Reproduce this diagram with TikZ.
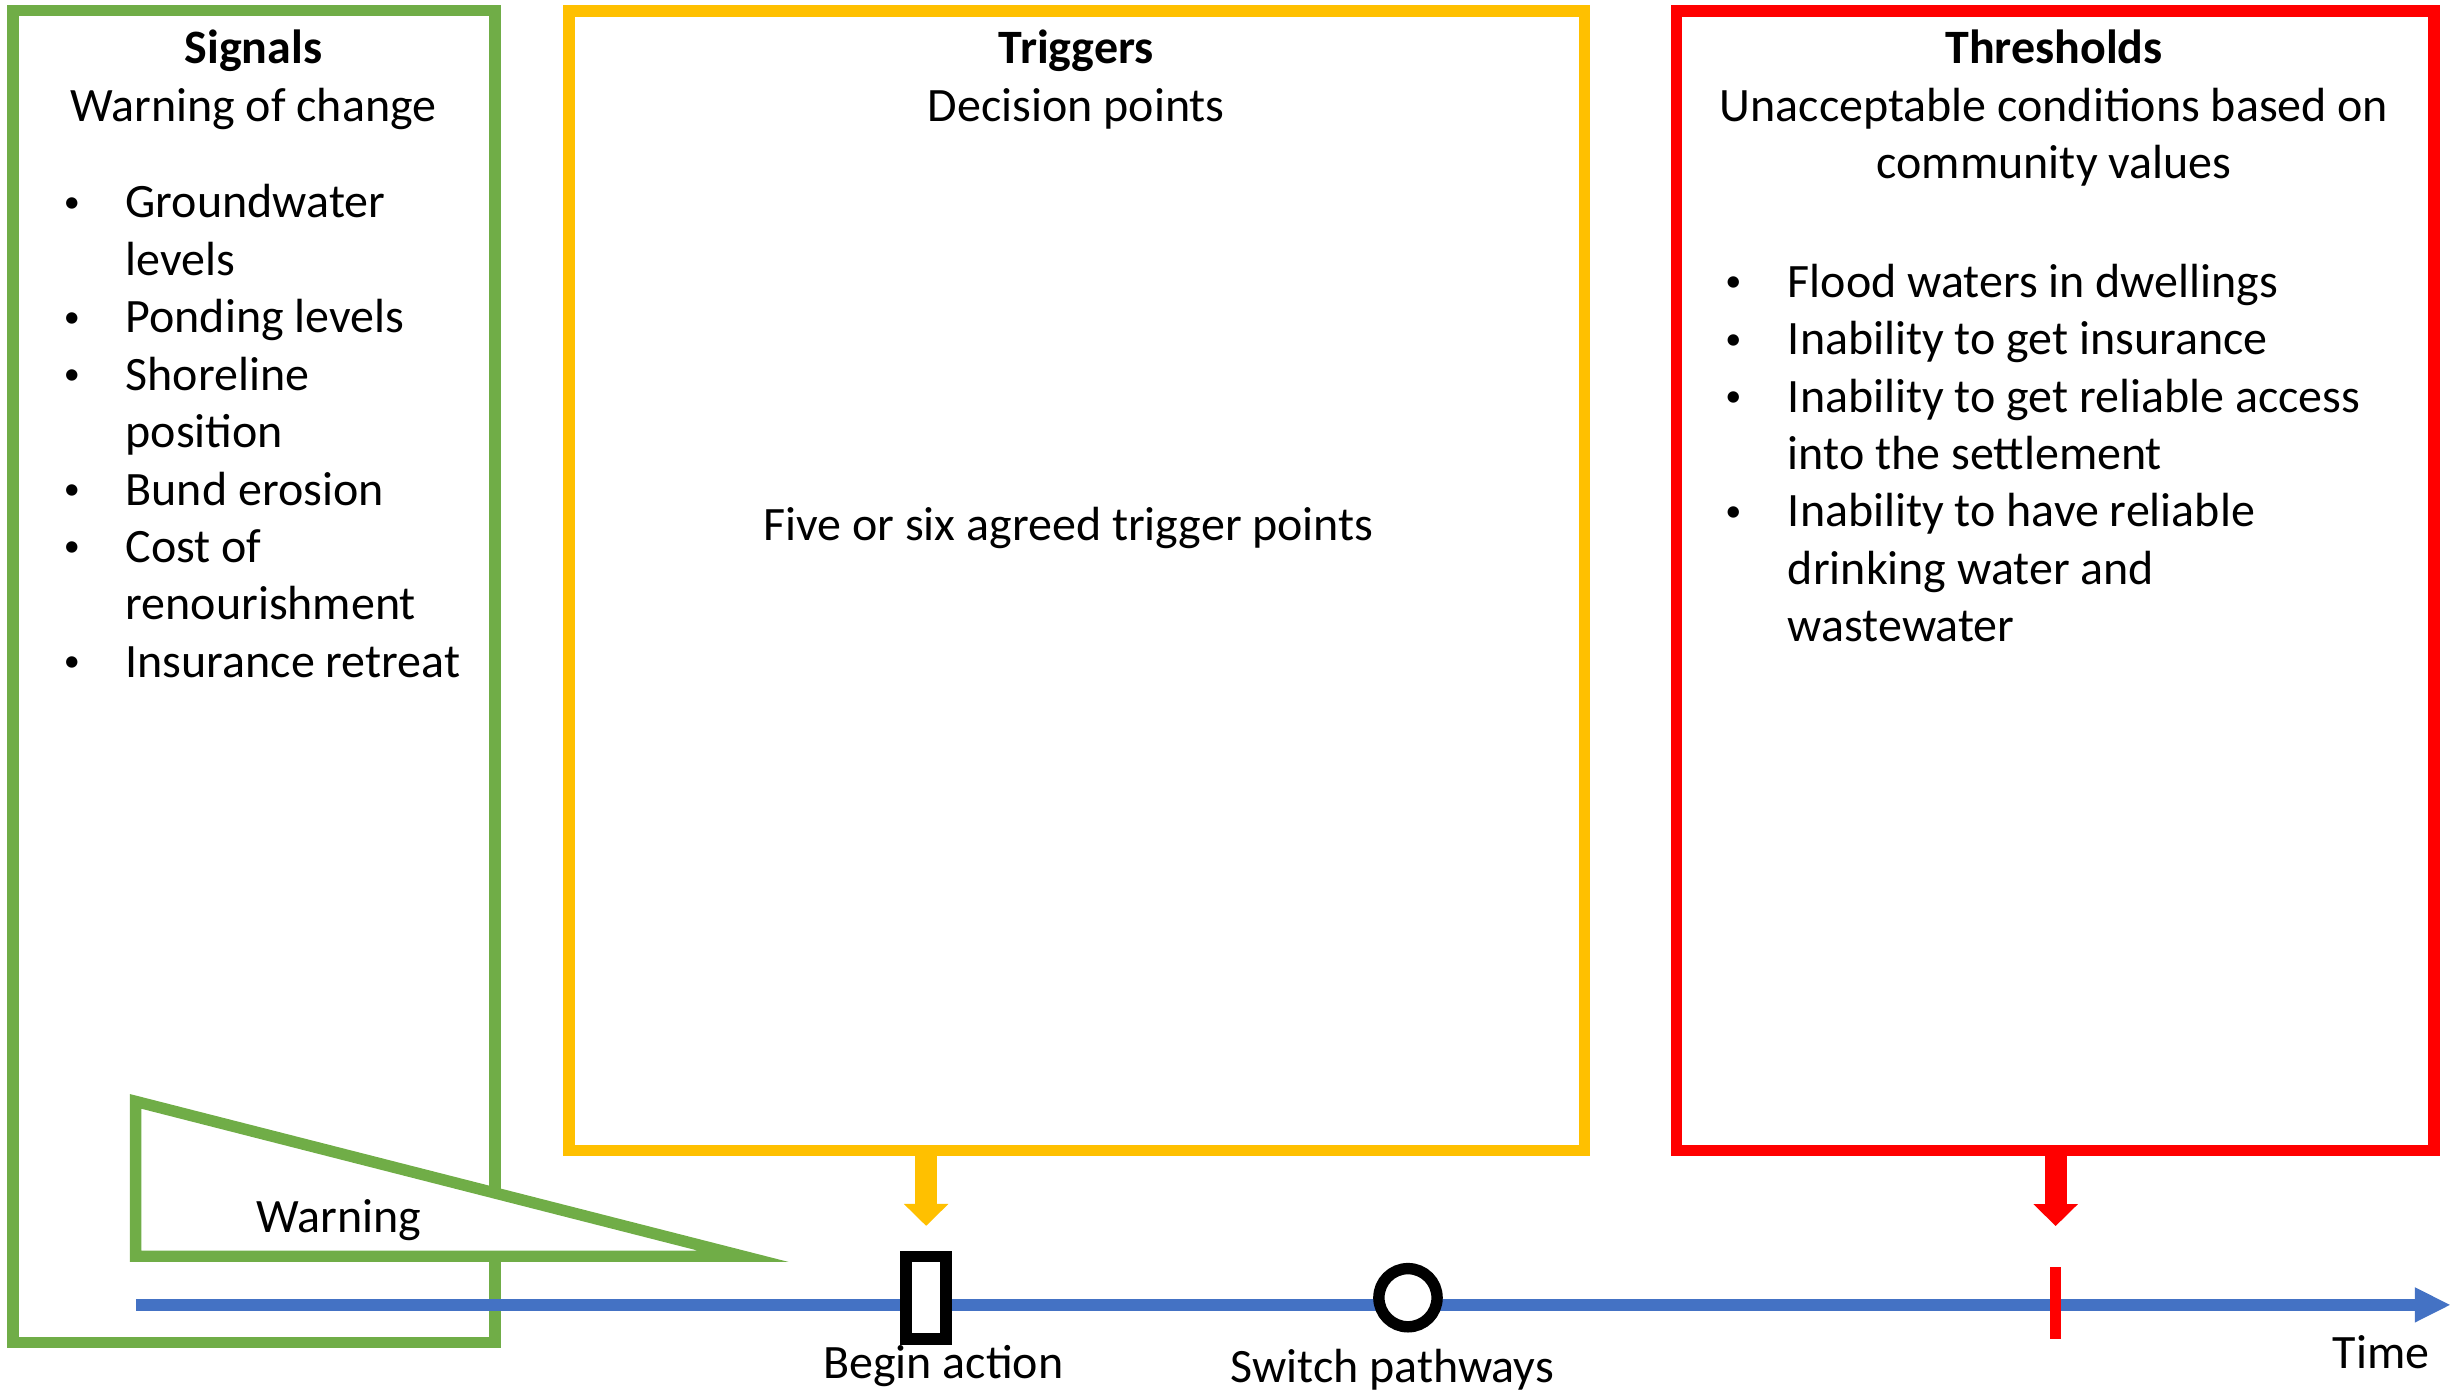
\documentclass[tikz,border=0pt]{standalone}
\usepackage{fontspec}
\setmainfont{Carlito}
\usetikzlibrary{arrows.meta}

\definecolor{sgreen}{HTML}{70AD47}
\definecolor{tyellow}{HTML}{FFC000}
\definecolor{hred}{HTML}{FF0000}
\definecolor{tblue}{HTML}{4472C4}

\tikzset{
    txt/.style   = {font=\fontsize{17.45}{20.9}\selectfont, inner sep=0pt, anchor=base},
    head/.style  = {txt, font=\fontsize{17.45}{20.9}\selectfont\bfseries},
    item/.style  = {txt, anchor=base west},
    bul/.style   = {txt, font=\fontsize{11.7}{12}\selectfont},
    frame/.style = {draw=#1, line width=0.146cm, inner sep=0pt},
    push/.style  = {draw=#1, line width=0.28cm, -{Triangle[length=0.28cm, width=0.57cm, line width=0pt]}}
}

\begin{document}
\begin{tikzpicture}[x=0.02cm, y=-0.02cm]
        \useasboundingbox (0,0) rectangle (1568,890);

        \node[frame=sgreen,  minimum width=6.162cm,  minimum height=17.036cm] (sig)  at (162.35,432.5) {};
        \node[frame=tyellow, minimum width=12.986cm, minimum height=14.572cm] (trig) at (688.35,371.3) {};
        \node[frame=hred,    minimum width=9.686cm,  minimum height=14.568cm] (thr)  at (1313.85,371.2) {};

        \draw[frame=sgreen, fill=white, line join=miter] (86.65,704) -- (86.65,803) -- (475,803) -- cycle;
        \node[txt] (warn) at (216.5,788) {Warning};

        \coordinate (t0) at (86.8,834.1);
        \coordinate (t1) at (1566,834.1);
        \draw[tblue, line width=0.146cm, -{Triangle[length=0.448cm, width=0.452cm, line width=0pt]}] (t0) -- (t1);

        \node[draw, line width=0.146cm, fill=white, inner sep=0pt, minimum width=0.51cm, minimum height=1.06cm] (act) at (592,829.5) {};
        \node[circle, draw, line width=0.146cm, fill=white, inner sep=0pt, minimum size=0.744cm] (sw) at (900,829.5) {};
        \node[fill=hred, inner sep=0pt, minimum width=0.146cm, minimum height=0.92cm] (lim) at (1314,833) {};

        \draw[push=tyellow, shorten >=0.316cm] (trig.south -| act) -- (act.north);
        \draw[push=hred,    shorten >=0.52cm]  (thr.south -| lim)  -- (lim.north);

        \node[txt] (acttxt) at (603,881)    {Begin action};
        \node[txt] (swtxt)  at (890,884)    {Switch pathways};
        \node[txt] (time)   at (1522,874.6) {Time};

        \node[head] (sigt)  at (162,40.5)   {Signals};
        \node[txt]  (sigs)  at (162,77.5)   {Warning of change};
        \node[head] (trigt) at (688,40.5)   {Triggers};
        \node[txt]  (trigs) at (688,77.5)   {Decision points};
        \node[txt]  (trigb) at (683,345.5)  {Five or six agreed trigger points};
        \node[head] (thrt)  at (1313,40.5)  {Thresholds};
        \node[txt]  (thrs1) at (1313,77.5)  {Unacceptable conditions based on};
        \node[txt]  (thrs2) at (1313,114.3) {community values};

        \foreach \t [count=\i] in {Groundwater,levels,Ponding levels,Shoreline,position,Bund erosion,Cost of,renourishment,Insurance retreat}
            \node[item] (g\i) at (80,{139.3+36.7*(\i-1)}) {\t};
        \foreach \i in {1,3,4,6,7,9}
            \node[bul] (gb\i) at (46,{135.7+36.7*(\i-1)}) {\textbullet};

        \foreach \t [count=\i] in {Flood waters in dwellings,Inability to get insurance,Inability to get reliable access,into the settlement,Inability to have reliable,drinking water and,wastewater}
            \node[item] (r\i) at (1142.5,{190+36.7*(\i-1)}) {\t};
        \foreach \i in {1,2,3,5}
            \node[bul] (rb\i) at (1108,{186.4+36.7*(\i-1)}) {\textbullet};

    \end{tikzpicture}
\end{document}
